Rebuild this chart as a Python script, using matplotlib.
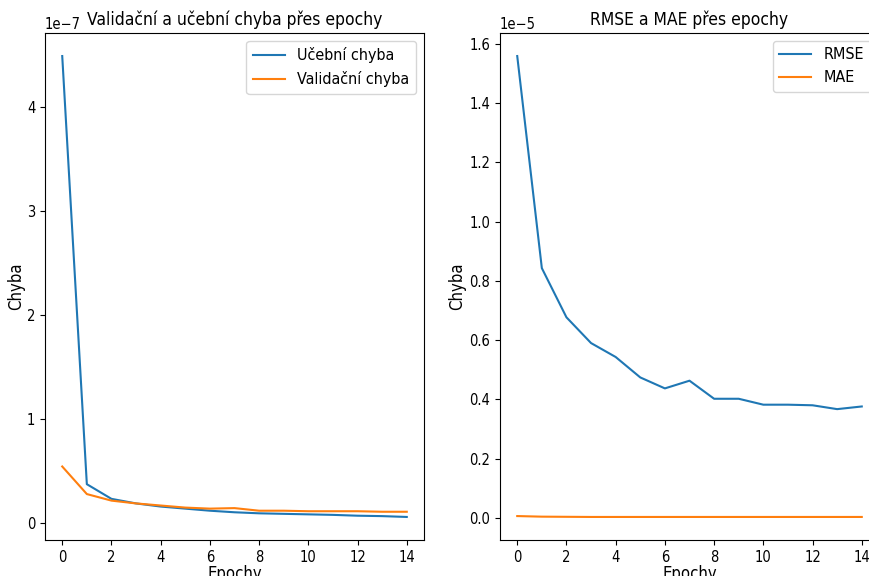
import matplotlib
matplotlib.use("Agg")
import matplotlib.pyplot as plt

epochs = list(range(15))

# left panel, values in units of 1e-7
train_loss = [4.49, 0.375, 0.234, 0.19, 0.16, 0.14, 0.12, 0.105, 0.095, 0.09, 0.085, 0.08, 0.072, 0.068, 0.06]
val_loss = [0.545, 0.28, 0.217, 0.19, 0.17, 0.15, 0.14, 0.145, 0.12, 0.12, 0.115, 0.115, 0.115, 0.11, 0.11]

# right panel, values in units of 1e-5
rmse = [1.559, 0.843, 0.677, 0.59, 0.543, 0.474, 0.437, 0.463, 0.402, 0.402, 0.382, 0.382, 0.38, 0.367, 0.376]
mae = [0.006, 0.004, 0.0035, 0.003, 0.003, 0.003, 0.003, 0.003, 0.003, 0.003, 0.003, 0.003, 0.003, 0.003, 0.003]

# the reference looks horizontally squeezed, condensed face gets close
plt.rcParams["font.family"] = "DejaVu Sans"
plt.rcParams["font.stretch"] = "condensed"

W, H = 870, 576
fig = plt.figure(figsize=(W / 100, H / 100), dpi=100)

ax1 = fig.add_axes([45 / W, (H - 540) / H, 379 / W, 507 / H])
ax2 = fig.add_axes([500 / W, (H - 540) / H, 379 / W, 507 / H])

ax1.plot(epochs, [v * 1e-7 for v in train_loss], label="Učební chyba")
ax1.plot(epochs, [v * 1e-7 for v in val_loss], label="Validační chyba")
ax1.set_title("Validační a učební chyba přes epochy", fontsize=12.5)
ax1.set_xlabel("Epochy", fontsize=12, labelpad=0)
ax1.set_ylabel("Chyba", fontsize=12)
ax1.yaxis.set_label_coords(-0.053, 0.5)
ax1.legend(fontsize=11.5)

ax2.plot(epochs, [v * 1e-5 for v in rmse], label="RMSE")
ax2.plot(epochs, [v * 1e-5 for v in mae], label="MAE")
ax2.set_title("RMSE a MAE přes epochy", fontsize=12.5)
ax2.set_xlabel("Epochy", fontsize=12, labelpad=0)
ax2.set_ylabel("Chyba", fontsize=12)
ax2.yaxis.set_label_coords(-0.09, 0.5)
ax2.legend(fontsize=11.5)

for ax in (ax1, ax2):
    ax.set_xticks(range(0, 15, 2))
    ax.tick_params(labelsize=10.5)
    ax.yaxis.get_offset_text().set_fontsize(10.5)

fig.savefig("out.png", dpi=100)
